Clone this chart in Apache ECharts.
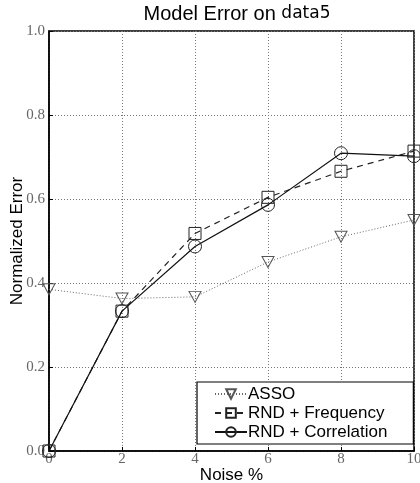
<!DOCTYPE html>
<html>
<head>
<meta charset="utf-8">
<script src="https://cdn.jsdelivr.net/npm/echarts@6/dist/echarts.min.js"></script>
<style>
  html, body { margin: 0; padding: 0; background: #fff; }
  #main { width: 420px; height: 483px; }
</style>
</head>
<body>
<div id="main"></div>
<script>
var noise = [0, 2, 4, 6, 8, 10]
var asso = [0.385, 0.363, 0.367, 0.45, 0.51, 0.55]
var rndFreq = [0.0, 0.333, 0.518, 0.604, 0.666, 0.714]
var rndCorr = [0.0, 0.333, 0.487, 0.586, 0.709, 0.702]

function pairs(ys) {
    return noise.map(function (x, i) { return [x, ys[i]] })
}

var myChart = echarts.init(document.getElementById('main'))

var options = {
    animation: false,
    // 标题
    title: {
        text: '{a|Model Error on }{b|data5}',
        left: 232,
        textAlign: 'center',
        top: -1,
        textStyle: {
            fontWeight: 'normal',
            rich: {
                a: { fontFamily: 'Liberation Sans', fontSize: 20, fontWeight: 'normal', color: '#000' },
                b: { fontFamily: 'DejaVu Sans', fontSize: 17, fontWeight: 'normal', color: '#000' }
            }
        }
    },
    grid: {
        left: 49, right: 6, top: 31, bottom: 32,
        outerBoundsMode: 'none',
        containLabel: false,
        show: true,
        borderColor: '#000',
        borderWidth: 1.5
    },
    // 图例
    legend: {
        orient: 'vertical',
        left: 197,
        top: 382,
        padding: [3, 26, 3, 17],
        itemGap: 1,
        itemWidth: 32,
        itemHeight: 12,
        backgroundColor: '#fff',
        borderColor: '#000',
        borderWidth: 1.2,
        textStyle: { fontFamily: 'Liberation Sans', fontSize: 17, lineHeight: 18, color: '#000', padding: [0, 0, 0, -4] },
        data: ['ASSO', 'RND + Frequency', 'RND + Correlation']
    },
    xAxis: {
        type: 'value',
        min: 0, max: 10, interval: 2,
        name: 'Noise %',
        nameLocation: 'middle',
        nameGap: 16,
        nameMoveOverlap: false,
        nameTextStyle: { fontFamily: 'Liberation Sans', fontSize: 17, color: '#000' },
        axisLine: { lineStyle: { color: '#000', width: 1.5 } },
        axisTick: { inside: true, length: 4, lineStyle: { color: '#000' } },
        axisLabel: { fontFamily: 'Liberation Serif', fontSize: 15, color: '#666', margin: 1 },
        splitLine: { lineStyle: { type: [1, 2], color: '#777' } }
    },
    yAxis: {
        type: 'value',
        min: 0, max: 1, interval: 0.2,
        name: 'Normalized Error',
        nameLocation: 'middle',
        nameGap: 23,
        nameMoveOverlap: false,
        nameTextStyle: { fontFamily: 'Liberation Sans', fontSize: 17, color: '#000' },
        axisLine: { show: true, lineStyle: { color: '#000', width: 1.5 } },
        axisTick: { show: true, inside: true, length: 4, lineStyle: { color: '#000' } },
        axisLabel: {
            fontFamily: 'Liberation Serif', fontSize: 15, color: '#666', margin: 4,
            formatter: function (v) { return v.toFixed(1) }
        },
        splitLine: { lineStyle: { type: [1, 2], color: '#777' } }
    },
    series: [{
        name: 'ASSO',
        type: 'line',
        data: pairs(asso),
        symbol: 'triangle',
        symbolRotate: 180,
        symbolSize: [12, 11],
        itemStyle: { color: 'rgba(255,255,255,0)', borderColor: '#555', borderWidth: 1 },
        lineStyle: { color: '#666', width: 1, type: [1, 2] },
        z: 2
    }, {
        name: 'RND + Frequency',
        type: 'line',
        data: pairs(rndFreq),
        symbol: 'rect',
        symbolSize: 12,
        itemStyle: { color: 'rgba(255,255,255,0)', borderColor: '#222', borderWidth: 1 },
        lineStyle: { color: '#222', width: 1.2, type: [6, 5] },
        z: 3
    }, {
        name: 'RND + Correlation',
        type: 'line',
        data: pairs(rndCorr),
        symbol: 'circle',
        symbolSize: 13,
        itemStyle: { color: 'rgba(255,255,255,0)', borderColor: '#222', borderWidth: 1 },
        lineStyle: { color: '#111', width: 1.2 },
        z: 4
    }]
}

myChart.setOption(options)
</script>
</body>
</html>
